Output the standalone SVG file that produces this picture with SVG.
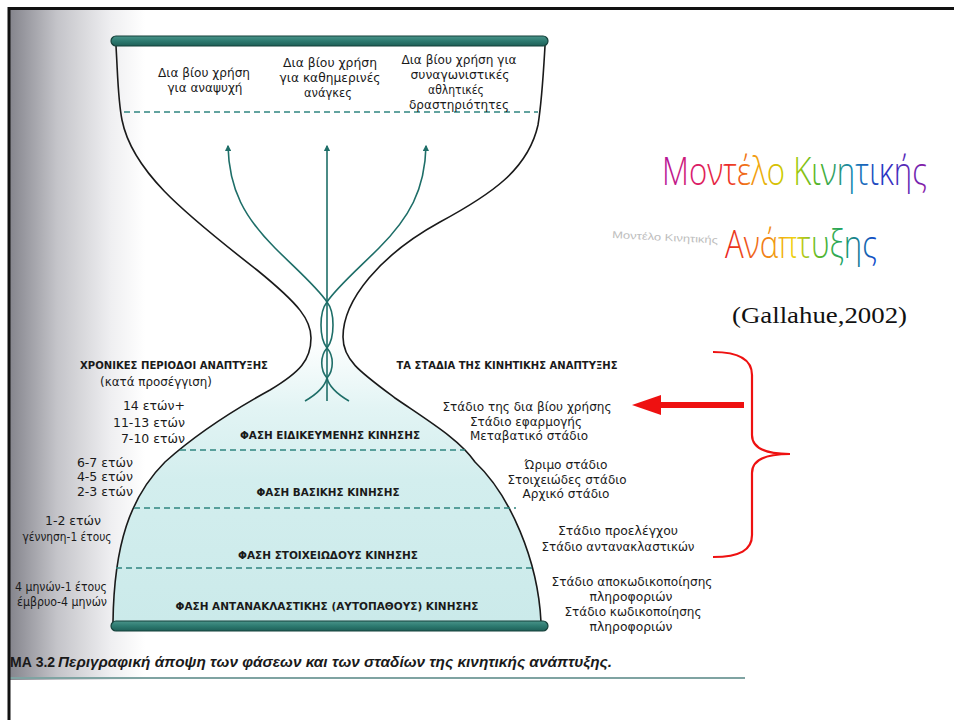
<svg xmlns="http://www.w3.org/2000/svg" width="954" height="720" viewBox="0 0 954 720">
<defs>
  <linearGradient id="scan" x1="0" y1="0" x2="1" y2="0">
    <stop offset="0" stop-color="#85858d"/>
    <stop offset="0.35" stop-color="#c4c4c9"/>
    <stop offset="0.75" stop-color="#efeff1"/>
    <stop offset="1" stop-color="#ffffff"/>
  </linearGradient>
  <linearGradient id="fillg" x1="0" y1="338" x2="0" y2="622" gradientUnits="userSpaceOnUse">
    <stop offset="0" stop-color="#ffffff"/>
    <stop offset="0.25" stop-color="#e2f4f4"/>
    <stop offset="0.5" stop-color="#d3eeee"/>
    <stop offset="1" stop-color="#cbeaea"/>
  </linearGradient>
  <linearGradient id="bar" x1="0" y1="0" x2="0" y2="1">
    <stop offset="0" stop-color="#4a948a"/>
    <stop offset="0.5" stop-color="#2d7a70"/>
    <stop offset="1" stop-color="#1e5f57"/>
  </linearGradient>
  <linearGradient id="rain1" x1="0" y1="0" x2="265" y2="0" gradientUnits="userSpaceOnUse">
    <stop offset="0" stop-color="#b0179b"/>
    <stop offset="0.12" stop-color="#d81c6a"/>
    <stop offset="0.25" stop-color="#ec2a28"/>
    <stop offset="0.36" stop-color="#f2a412"/>
    <stop offset="0.47" stop-color="#c4d000"/>
    <stop offset="0.6" stop-color="#48b030"/>
    <stop offset="0.72" stop-color="#1680b4"/>
    <stop offset="0.84" stop-color="#2832c4"/>
    <stop offset="1" stop-color="#8a1ea6"/>
  </linearGradient>
  <linearGradient id="rain2" x1="0" y1="0" x2="152" y2="0" gradientUnits="userSpaceOnUse">
    <stop offset="0" stop-color="#e82020"/>
    <stop offset="0.25" stop-color="#f07a18"/>
    <stop offset="0.45" stop-color="#f0d010"/>
    <stop offset="0.62" stop-color="#58b828"/>
    <stop offset="0.78" stop-color="#1ea068"/>
    <stop offset="1" stop-color="#1444d0"/>
  </linearGradient>
  <marker id="ah" viewBox="0 0 10 10" refX="8" refY="5" markerWidth="4" markerHeight="4" orient="auto" markerUnits="strokeWidth">
    <path d="M0,0 L10,5 L0,10 z" fill="#1e6e68"/>
  </marker>
  <style>
    .t { font-family: "DejaVu Sans", "Liberation Sans", sans-serif; font-size: 12.5px; fill: #1a1a1a; text-anchor: middle; }
    .e { text-anchor: end; }
    .b { font-family: "DejaVu Sans", "Liberation Sans", sans-serif; font-size: 10px; font-weight: bold; fill: #1a1a1a; text-anchor: middle; }
    .outline { fill: none; stroke: #1a1a1a; stroke-width: 1.6; }
    .dash { fill: none; stroke: #2f8580; stroke-width: 1.4; stroke-dasharray: 6 4; }
    .strand { fill: none; stroke: #1e6e68; stroke-width: 1.6; }
    .bar { fill: url(#bar); stroke: #15403a; stroke-width: 1.2; }
    .title { font-family: "Open Sans", "Liberation Sans", sans-serif; font-weight: 300; font-size: 33px; }
  </style>
</defs>

<rect x="0" y="0" width="954" height="720" fill="#ffffff"/>
<rect id="scan-shade" x="10" y="10" width="135" height="670" fill="url(#scan)"/>
<line x1="10" y1="678" x2="745" y2="678" stroke="#7fa3a2" stroke-width="2"/>
<path d="M9,720 V8.5 H954" fill="none" stroke="#111111" stroke-width="3"/>

<g id="hourglass">
  <path d="M311,338 C311,360 300,372 270,390 C230,412 195,435 165,462 C130,497 114,545 113,622 L541,622 C538,560 510,495 475,462 C460,440 430,422 395,398 C360,372 343,360 343,337 Z" fill="url(#fillg)"/>
  <path class="outline" d="M116,46 C118,80 118,100 122,120 C132,170 180,210 257,270 C300,305 311,320 311,338 C311,360 300,372 270,390 C230,412 195,435 165,462 C130,497 114,545 113,622"/>
  <path class="outline" d="M545,46 C543,80 542,100 538,125 C528,170 490,195 440,222 C380,255 343,300 343,337 C343,360 360,372 395,398 C430,422 460,440 475,462 C510,495 538,560 541,622"/>
  <line class="dash" x1="124" y1="112" x2="538" y2="112"/>
  <line class="dash" x1="180" y1="450" x2="465" y2="450"/>
  <line class="dash" x1="134" y1="508" x2="516" y2="508"/>
  <line class="dash" x1="116" y1="568" x2="533" y2="568"/>
  <rect class="bar" x="111" y="36" width="437" height="10" rx="5"/>
  <rect class="bar" x="111" y="621" width="437" height="10" rx="5"/>
</g>

<g id="connectors">
  <path class="strand" d="M327,401 V146" marker-end="url(#ah)"/>
  <path class="strand" d="M349,401 Q330,390 327,378 C320,370 320,356 327,348 C335,338 335,312 327,302 C318,288 295,268 275,248 C245,218 229,190 228,146" marker-end="url(#ah)"/>
  <path class="strand" d="M305,401 Q324,390 327,378 C334,370 334,356 327,348 C319,338 319,312 327,302 C336,288 359,268 379,248 C409,218 425,190 426,146" marker-end="url(#ah)"/>
</g>

<g id="top-labels">
  <text class="t" x="204" y="77" textLength="92" lengthAdjust="spacingAndGlyphs">Δια βίου χρήση</text>
  <text class="t" x="205" y="92" textLength="75" lengthAdjust="spacingAndGlyphs">για αναψυχή</text>
  <text class="t" x="330" y="67" textLength="94" lengthAdjust="spacingAndGlyphs">Δια βίου χρήση</text>
  <text class="t" x="330" y="82" textLength="101" lengthAdjust="spacingAndGlyphs">για καθημερινές</text>
  <text class="t" x="328" y="97" textLength="48" lengthAdjust="spacingAndGlyphs">ανάγκες</text>
  <text class="t" x="459" y="64" textLength="115" lengthAdjust="spacingAndGlyphs">Δια βίου χρήση για</text>
  <text class="t" x="460" y="79" textLength="99" lengthAdjust="spacingAndGlyphs">συναγωνιστικές</text>
  <text class="t" x="456" y="94" textLength="56" lengthAdjust="spacingAndGlyphs">αθλητικές</text>
  <text class="t" x="459" y="109" textLength="100" lengthAdjust="spacingAndGlyphs">δραστηριότητες</text>
</g>

<g id="phases">
  <text class="b" x="330" y="439" textLength="180" lengthAdjust="spacingAndGlyphs">ΦΑΣΗ ΕΙΔΙΚΕΥΜΕΝΗΣ ΚΙΝΗΣΗΣ</text>
  <text class="b" x="328" y="496" textLength="143" lengthAdjust="spacingAndGlyphs">ΦΑΣΗ ΒΑΣΙΚΗΣ ΚΙΝΗΣΗΣ</text>
  <text class="b" x="328" y="559" textLength="180" lengthAdjust="spacingAndGlyphs">ΦΑΣΗ ΣΤΟΙΧΕΙΩΔΟΥΣ ΚΙΝΗΣΗΣ</text>
  <text class="b" x="327" y="610" textLength="303" lengthAdjust="spacingAndGlyphs">ΦΑΣΗ ΑΝΤΑΝΑΚΛΑΣΤΙΚΗΣ (ΑΥΤΟΠΑΘΟΥΣ) ΚΙΝΗΣΗΣ</text>
</g>

<g id="ages">
  <text class="b" x="174" y="369" textLength="188" lengthAdjust="spacingAndGlyphs">ΧΡΟΝΙΚΕΣ ΠΕΡΙΟΔΟΙ ΑΝΑΠΤΥΞΗΣ</text>
  <text class="t" x="156" y="386" textLength="112" lengthAdjust="spacingAndGlyphs">(κατά προσέγγιση)</text>
  <text class="t e" x="185" y="410">14 ετών+</text>
  <text class="t e" x="185" y="427">11-13 ετών</text>
  <text class="t e" x="185" y="443">7-10 ετών</text>
  <text class="t e" x="133" y="467">6-7 ετών</text>
  <text class="t e" x="133" y="481">4-5 ετών</text>
  <text class="t e" x="133" y="496">2-3 ετών</text>
  <text class="t" x="73" y="525">1-2 ετών</text>
  <text class="t" x="67" y="541" textLength="89" lengthAdjust="spacingAndGlyphs">γέννηση-1 έτους</text>
  <text class="t" x="61" y="591" textLength="92" lengthAdjust="spacingAndGlyphs">4 μηνών-1 έτους</text>
  <text class="t" x="62" y="606" textLength="90" lengthAdjust="spacingAndGlyphs">έμβρυο-4 μηνών</text>
</g>

<g id="stages">
  <text class="b" x="507" y="369" textLength="221" lengthAdjust="spacingAndGlyphs">ΤΑ ΣΤΑΔΙΑ ΤΗΣ ΚΙΝΗΤΙΚΗΣ ΑΝΑΠΤΥΞΗΣ</text>
  <text class="t" x="527" y="411" textLength="169" lengthAdjust="spacingAndGlyphs">Στάδιο της δια βίου χρήσης</text>
  <text class="t" x="526" y="426" textLength="112" lengthAdjust="spacingAndGlyphs">Στάδιο εφαρμογής</text>
  <text class="t" x="529" y="440" textLength="118" lengthAdjust="spacingAndGlyphs">Μεταβατικό στάδιο</text>
  <text class="t" x="566" y="469" textLength="83" lengthAdjust="spacingAndGlyphs">Ώριμο στάδιο</text>
  <text class="t" x="567" y="484" textLength="119" lengthAdjust="spacingAndGlyphs">Στοιχειώδες στάδιο</text>
  <text class="t" x="566" y="498" textLength="87" lengthAdjust="spacingAndGlyphs">Αρχικό στάδιο</text>
  <text class="t" x="618" y="535" textLength="120" lengthAdjust="spacingAndGlyphs">Στάδιο προελέγχου</text>
  <text class="t" x="618" y="551" textLength="153" lengthAdjust="spacingAndGlyphs">Στάδιο αντανακλαστικών</text>
  <text class="t" x="632" y="586" textLength="161" lengthAdjust="spacingAndGlyphs">Στάδιο αποκωδικοποίησης</text>
  <text class="t" x="631" y="601" textLength="83" lengthAdjust="spacingAndGlyphs">πληροφοριών</text>
  <text class="t" x="633" y="616" textLength="137" lengthAdjust="spacingAndGlyphs">Στάδιο κωδικοποίησης</text>
  <text class="t" x="631" y="631" textLength="83" lengthAdjust="spacingAndGlyphs">πληροφοριών</text>
</g>

<g id="caption">
  <text x="10" y="667" style="font-family:'Liberation Sans',Arial,sans-serif;font-size:14px;font-weight:bold;fill:#1a1a1a">ΜΑ 3.2</text>
  <text x="58" y="667" style="font-family:'Liberation Sans',Arial,sans-serif;font-size:15px;font-weight:bold;font-style:italic;fill:#1a1a1a" textLength="554" lengthAdjust="spacingAndGlyphs">Περιγραφική άποψη των φάσεων και των σταδίων της κινητικής ανάπτυξης.</text>
</g>

<g id="title">
  <text x="612" y="238" transform="rotate(3 612 238)" style="font-family:'Liberation Sans',sans-serif;font-size:10px;fill:#bdbdbd" textLength="106" lengthAdjust="spacingAndGlyphs">Μοντέλο Κινητικής</text>
  <text class="title" transform="translate(662,185) scale(1,1.15)" x="0" y="0" fill="url(#rain1)" textLength="265" lengthAdjust="spacingAndGlyphs">Μοντέλο Κινητικής</text>
  <text class="title" transform="translate(725,258) scale(1,1.15)" x="0" y="0" fill="url(#rain2)" textLength="152" lengthAdjust="spacingAndGlyphs">Ανάπτυξης</text>
  <text x="732" y="323" style="font-family:'Liberation Serif','Times New Roman',serif;font-size:24px;fill:#111" textLength="175" lengthAdjust="spacingAndGlyphs">(Gallahue,2002)</text>
</g>

<g id="annotation">
  <path d="M713,352 C740,352 752,360 752,375 V435 C752,448 765,454 790,454 C765,454 752,460 752,473 V535 C752,550 740,557 713,557" fill="none" stroke="#ee1111" stroke-width="2.2"/>
  <rect x="656" y="402" width="88" height="6" fill="#ee1111"/>
  <path d="M632,405 L661,395 L661,415 Z" fill="#ee1111"/>
</g>
</svg>
